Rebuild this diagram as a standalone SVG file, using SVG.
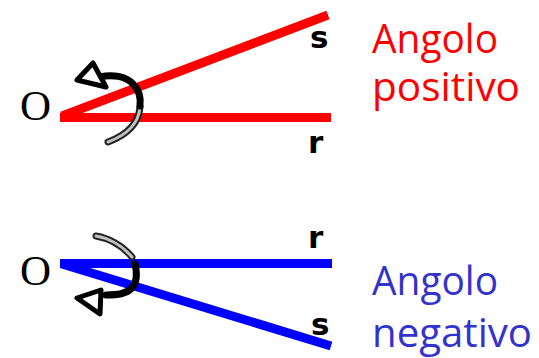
<svg xmlns="http://www.w3.org/2000/svg" width="539" height="358" viewBox="0 0 539 358">
<style>
.o{font-family:"Liberation Serif","Times New Roman",serif;font-size:43px;fill:#000}
.lbl{font-family:"DejaVu Sans","Liberation Sans",sans-serif;font-weight:bold;font-size:31px;fill:#000}
.cap{font-family:"Open Sans","Liberation Sans",Arial,sans-serif;font-size:40px}
.red{stroke:#ff0000;stroke-width:9;fill:none}
.blue{stroke:#0000ff;stroke-width:9;fill:none}
.blk{stroke:#000;stroke-width:7;fill:none;stroke-linecap:round}
.gout{stroke:#222;stroke-width:7;fill:none;stroke-linecap:round}
.gin{stroke:#c0c0c0;stroke-width:3;fill:none;stroke-linecap:round}
.tri{fill:#fff;stroke:#000;stroke-width:5;stroke-linejoin:round}
</style>
<rect width="539" height="358" fill="#fff"/>
<g id="positive">
  <text class="o" x="20" y="120">O</text>
  <g id="pos-lines">
    <line class="red" x1="60" y1="117.5" x2="331" y2="117.5"/>
    <line class="red" x1="62" y1="116" x2="328" y2="15" stroke-width="10"/>
  </g>
  <text class="lbl" x="310" y="48">s</text>
  <text class="lbl" x="308" y="153">r</text>
  <g id="pos-arrow">
    <path class="gout" d="M140,107 C139,120 132,133 108,142"/>
    <path class="gin" d="M140,107 C139,120 132,133 108,142"/>
    <path class="blk" d="M100,77 C112,74 126,76 133,84 C139,90 141,98 140,106"/>
    <polygon class="tri" points="77,80 93,63 106,87"/>
  </g>
  <text class="cap" x="372" y="53" fill="#ff0000" textLength="126" lengthAdjust="spacingAndGlyphs">Angolo</text>
  <text class="cap" x="372" y="101" fill="#ff0000" textLength="148" lengthAdjust="spacingAndGlyphs">positivo</text>
</g>
<g id="negative">
  <text class="o" x="20" y="285">O</text>
  <g id="neg-lines">
    <line class="blue" x1="60" y1="263.5" x2="332" y2="263.5"/>
    <line class="blue" x1="62" y1="264" x2="331" y2="346" stroke-width="10"/>
  </g>
  <text class="lbl" x="308" y="248">r</text>
  <text class="lbl" x="311" y="335">s</text>
  <g id="neg-arrow">
    <path class="gout" d="M96,236 C108,238 122,245 132,257"/>
    <path class="gin" d="M96,236 C108,238 122,245 132,257"/>
    <path class="blk" d="M135,264 C137,272 137,282 132,288 C126,294 118,295 106,295"/>
    <polygon class="tri" points="77,298 101,290 100,314"/>
  </g>
  <text class="cap" x="372" y="295" fill="#3333cc" textLength="126" lengthAdjust="spacingAndGlyphs">Angolo</text>
  <text class="cap" x="372" y="347" fill="#3333cc" textLength="160" lengthAdjust="spacingAndGlyphs">negativo</text>
</g>
</svg>
